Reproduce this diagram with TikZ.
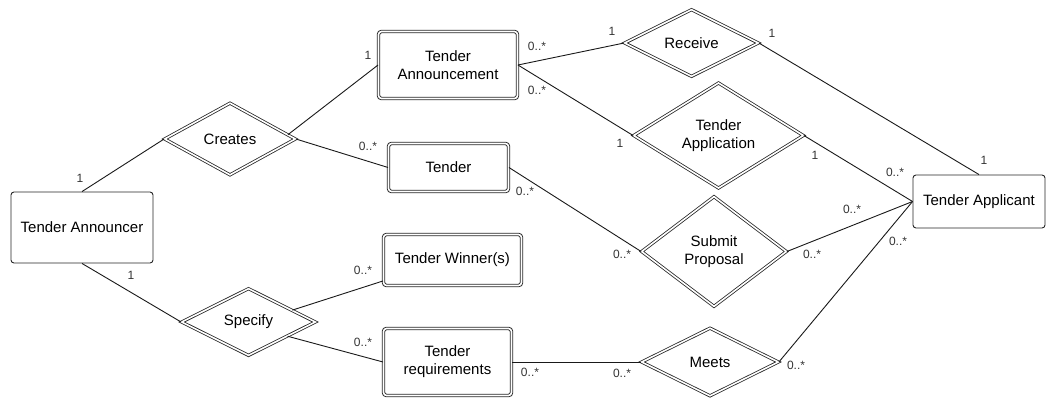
\documentclass[tikz,border=0pt]{standalone}
\usepackage{fontspec}
\setmainfont{Liberation Sans}
\usetikzlibrary{shapes.geometric,calc}

\begin{document}
\begin{tikzpicture}[
  x=1pt, y=-1pt,
  ent/.style={draw=black!85, line width=0.9pt, rounded corners=3pt, align=center, inner sep=2pt, font=\fontsize{15}{18}\selectfont},
  went/.style={ent, double, double distance=1.6pt},
  rel/.style={diamond, draw=black!85, line width=0.8pt, double, double distance=1.6pt, align=center, inner sep=0pt, font=\fontsize{15}{18}\selectfont},
  card/.style={font=\fontsize{12}{12}\selectfont, text=black!80, inner sep=0pt},
  link/.style={draw=black!90, line width=0.9pt}
]
\useasboundingbox (0,0) rectangle (1050,397);
% entities
\node[ent, minimum width=142pt, minimum height=71pt] (announcer) at (82,227.5) {Tender Announcer};
\node[went, minimum width=139pt, minimum height=67pt] (tann) at (448,65) {Tender\\Announcement};
\node[went, minimum width=120pt, minimum height=48pt] (tender) at (448.5,167.5) {Tender};
\node[went, minimum width=138pt, minimum height=51pt] (winner) at (452.5,260) {Tender Winner(s)};
\node[went, minimum width=128pt, minimum height=67pt] (treq) at (447.5,362) {Tender\\requirements};
\node[ent, minimum width=132pt, minimum height=53pt] (applicant) at (979,201.5) {Tender Applicant};
% relationships
\node[rel, minimum width=131pt, minimum height=72pt] (creates) at (230,139) {Creates};
\node[rel, minimum width=134pt, minimum height=67pt] (specify) at (248.5,322) {Specify};
\node[rel, minimum width=134pt, minimum height=67pt] (receive) at (691.5,43) {Receive};
\node[rel, minimum width=170pt, minimum height=92pt] (tapp) at (718.5,135.5) {Tender\\Application};
\node[rel, minimum width=145pt, minimum height=110pt] (submit) at (714,251.5) {Submit\\Proposal};
\node[rel, minimum width=137pt, minimum height=68pt] (meets) at (710,362) {Meets};
% connectors
\draw[link] (announcer.north) -- (creates.west);
\draw[link] (announcer.south) -- (specify.west);
\draw[link] ($(creates.east)!0.12!(creates.north)$) -- (tann.west);
\draw[link] (creates.east) -- (tender.west);
\draw[link] ($(specify.east)!0.35!(specify.north)$) -- ($(winner.south west)+(0,-5)$);
\draw[link] ($(specify.east)!0.42!(specify.south)$) -- (treq.west);
\draw[link] (tann.east) -- (receive.west);
\draw[link] (tann.east) -- (tapp.west);
\draw[link] (tender.east) -- (submit.west);
\draw[link] (treq.east) -- (meets.west);
\draw[link] (receive.east) -- (applicant.north);
\draw[link] (tapp.east) -- (applicant.west);
\draw[link] (submit.east) -- (applicant.west);
\draw[link] (meets.east) -- (applicant.west);
% multiplicities
\node[card] (m1) at (80,178) {1};
\node[card] (m2) at (131,275) {1};
\node[card] (m3) at (368,55) {1};
\node[card] (m4) at (368,146) {0..*};
\node[card] (m5) at (537,46) {0..*};
\node[card] (m6) at (537,90) {0..*};
\node[card] (m7) at (612,31) {1};
\node[card] (m8) at (772,33) {1};
\node[card] (m9) at (620,143) {1};
\node[card] (m10) at (815,155) {1};
\node[card] (m11) at (895,172) {0..*};
\node[card] (m12) at (984,160) {1};
\node[card] (m13) at (852,209) {0..*};
\node[card] (m14) at (898,241) {0..*};
\node[card] (m15) at (812,254) {0..*};
\node[card] (m16) at (622,254) {0..*};
\node[card] (m17) at (525,191) {0..*};
\node[card] (m18) at (796,365) {0..*};
\node[card] (m19) at (622,373) {0..*};
\node[card] (m20) at (530,372) {0..*};
\node[card] (m21) at (363,270) {0..*};
\node[card] (m22) at (363,342) {0..*};
\end{tikzpicture}
\end{document}
